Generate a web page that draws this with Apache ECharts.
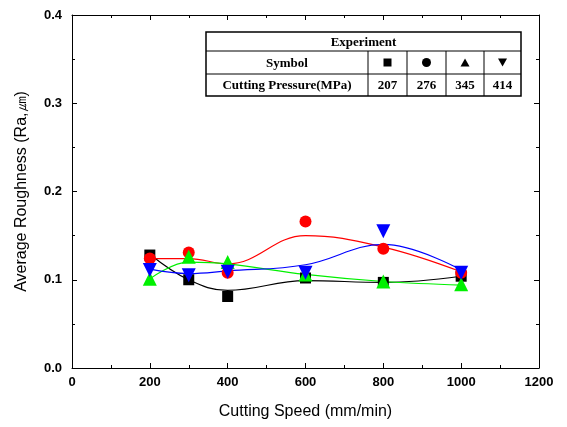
<!DOCTYPE html>
<html>
<head>
<meta charset="utf-8">
<script src="https://cdn.jsdelivr.net/npm/echarts@6/dist/echarts.min.js"></script>
<style>
  html, body { margin: 0; padding: 0; background: #fff; }
  #chart { width: 567px; height: 427px; }
</style>
</head>
<body>
<div id="chart"></div>
<script>
// cutting speed (mm/min)
const speeds = [200, 300, 400, 600, 800, 1000];

// measured roughness, one array per cutting pressure
const p207 = [0.128, 0.100, 0.081, 0.102, 0.097, 0.104];
const p276 = [0.124, 0.131, 0.108, 0.166, 0.135, 0.108];
const p345 = [0.101, 0.126, 0.120, 0.106, 0.098, 0.095];
const p414 = [0.111, 0.105, 0.109, 0.108, 0.155, 0.108];

// fitted curves at the same speeds
const fit207 = [0.129, 0.100, 0.088, 0.099, 0.097, 0.104];
const fit276 = [0.124, 0.124, 0.118, 0.150, 0.137, 0.109];
const fit345 = [0.101, 0.120, 0.118, 0.106, 0.098, 0.094];
const fit414 = [0.112, 0.107, 0.110, 0.117, 0.140, 0.111];

// legend table
const pressures = ['207', '276', '345', '414'];

const colors = ['#000000', '#ff0000', '#00f000', '#0000ff'];
const symbols = ['rect', 'circle', 'triangle', 'triangle'];
const rotates = [0, 0, 0, 180];
const sizes = [11, 12, 14, 14];
const measured = [p207, p276, p345, p414];
const fitted = [fit207, fit276, fit345, fit414];

const pairs = arr => speeds.map((s, i) => [s, arr[i]]);

const series = [];
fitted.forEach((f, k) => {
  series.push({
    type: 'line',
    data: pairs(f),
    smooth: 0.4,
    showSymbol: false,
    lineStyle: { color: colors[k], width: 1.2 },
    z: 2
  });
});
measured.forEach((m, k) => {
  series.push({
    type: 'scatter',
    data: pairs(m),
    symbol: symbols[k],
    symbolRotate: rotates[k],
    symbolSize: sizes[k],
    itemStyle: { color: colors[k], opacity: 1 },
    z: 3
  });
});

// table geometry
const tx = [206, 368, 407, 446, 484, 521];
const ty = [32, 51, 74, 96];
const tfont = 'bold 13px "Liberation Serif", "DejaVu Serif", serif';
const graphics = [];
const line = (x1, y1, x2, y2) => graphics.push({
  type: 'line', shape: { x1, y1, x2, y2 },
  style: { stroke: '#000', lineWidth: 1 }, z: 10
});
graphics.push({
  type: 'rect', shape: { x: tx[0], y: ty[0], width: tx[5] - tx[0], height: ty[3] - ty[0] },
  style: { fill: '#fff', stroke: '#000', lineWidth: 1.5 }, z: 9
});
line(tx[0], ty[1], tx[5], ty[1]);
line(tx[0], ty[2], tx[5], ty[2]);
for (let i = 1; i < 5; i++) line(tx[i], ty[1], tx[i], ty[3]);
const text = (t, x, y) => graphics.push({
  type: 'text', x, y, z: 11,
  style: { text: t, font: tfont, fill: '#000', align: 'center', verticalAlign: 'middle' }
});
text('Experiment', (tx[0] + tx[5]) / 2, (ty[0] + ty[1]) / 2 + 1);
text('Symbol', (tx[0] + tx[1]) / 2, (ty[1] + ty[2]) / 2 + 1);
text('Cutting Pressure(MPa)', (tx[0] + tx[1]) / 2, (ty[2] + ty[3]) / 2 + 1);
pressures.forEach((p, i) => {
  const cx = (tx[i + 1] + tx[i + 2]) / 2;
  text(p, cx, (ty[2] + ty[3]) / 2 + 1);
  const cy = (ty[1] + ty[2]) / 2;
  if (i === 0) {
    graphics.push({ type: 'rect', shape: { x: cx - 4, y: cy - 4, width: 8, height: 8 }, style: { fill: '#000' }, z: 11 });
  } else if (i === 1) {
    graphics.push({ type: 'circle', shape: { cx, cy, r: 4.5 }, style: { fill: '#000' }, z: 11 });
  } else if (i === 2) {
    graphics.push({ type: 'polygon', shape: { points: [[cx, cy - 4], [cx - 4.5, cy + 4], [cx + 4.5, cy + 4]] }, style: { fill: '#000' }, z: 11 });
  } else {
    graphics.push({ type: 'polygon', shape: { points: [[cx - 4.5, cy - 4], [cx + 4.5, cy - 4], [cx, cy + 4]] }, style: { fill: '#000' }, z: 11 });
  }
});

const axisFont = { fontFamily: 'Arial, "Liberation Sans", sans-serif', fontWeight: 'bold', fontSize: 13, color: '#000' };
const frameAxis = {
  axisLine: { show: true, onZero: false, lineStyle: { color: '#000', width: 1 } },
  axisTick: { show: true, inside: true, length: 5, lineStyle: { color: '#000' } },
  minorTick: { show: true, splitNumber: 2, length: 3, lineStyle: { color: '#000' } },
  splitLine: { show: false },
  axisLabel: { show: false }
};

const chart = echarts.init(document.getElementById('chart'));
chart.setOption({
  animation: false,
  backgroundColor: '#fff',
  grid: { left: 72, right: 28, top: 15, bottom: 59 },
  xAxis: [
    {
      type: 'value', min: 0, max: 1200, interval: 200,
      name: 'Cutting Speed (mm/min)', nameLocation: 'middle', nameGap: 36,
      nameTextStyle: { fontFamily: 'Arial, "Liberation Sans", sans-serif', fontSize: 16, color: '#000' },
      axisLine: { onZero: false, lineStyle: { color: '#000' } },
      axisTick: { inside: true, length: 5, lineStyle: { color: '#000' } },
      minorTick: { show: true, splitNumber: 2, length: 3, lineStyle: { color: '#000' } },
      splitLine: { show: false },
      axisLabel: Object.assign({ margin: 8, formatter: v => String(v) }, axisFont)
    },
    Object.assign({ type: 'value', min: 0, max: 1200, interval: 200, position: 'top' }, frameAxis)
  ],
  yAxis: [
    {
      type: 'value', min: 0, max: 0.4, interval: 0.1,
      name: 'Average Roughness (Ra,㎛)', nameLocation: 'middle', nameGap: 42,
      nameTextStyle: { fontFamily: 'Arial, "Liberation Sans", sans-serif', fontSize: 16, color: '#000' },
      axisLine: { onZero: false, lineStyle: { color: '#000' } },
      axisTick: { inside: true, length: 5, lineStyle: { color: '#000' } },
      minorTick: { show: true, splitNumber: 2, length: 3, lineStyle: { color: '#000' } },
      splitLine: { show: false },
      axisLabel: Object.assign({ margin: 10, formatter: v => v.toFixed(1) }, axisFont)
    },
    Object.assign({ type: 'value', min: 0, max: 0.4, interval: 0.1, position: 'right' }, frameAxis)
  ],
  series: series,
  graphic: graphics
});
</script>
</body>
</html>
